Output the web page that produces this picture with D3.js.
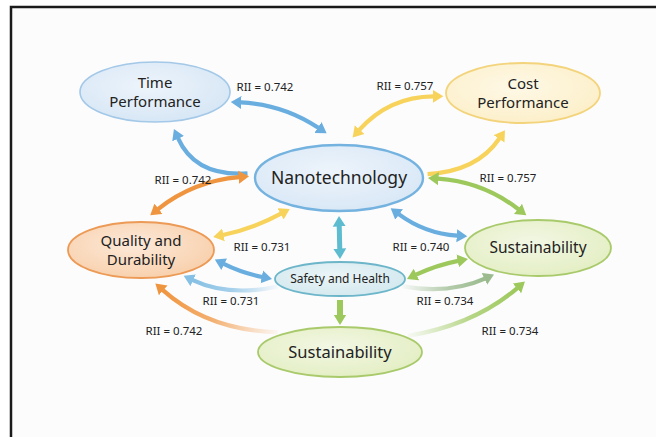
<!DOCTYPE html>
<html>
<head>
<meta charset="utf-8">
<script src="https://cdn.jsdelivr.net/npm/d3@7"></script>
<style>
  html, body { margin: 0; padding: 0; background: #fff; }
  svg { display: block; font-family: "Noto Sans", "Open Sans", sans-serif; }
</style>
</head>
<body>
<div id="chart"></div>
<script>
// node names (one entry per ellipse), lines of text
const nodeIds = ["time", "cost", "nano", "quality", "sustR", "safety", "sustB"];
const nodeLabels = [
  ["Time", "Performance"],
  ["Cost", "Performance"],
  ["Nanotechnology"],
  ["Quality and", "Durability"],
  ["Sustainability"],
  ["Safety and Health"],
  ["Sustainability"]
];
const nodeTheme = ["blue", "yellow", "nano", "orange", "green", "teal", "green"];

// links: source, target, which ends carry a head, colour
const linkSource = ["time", "time", "nano", "cost", "nano", "nano", "quality", "quality", "quality", "quality", "nano", "safety", "nano", "safety", "safety", "sustB"];
const linkTarget = ["nano", "nano", "quality", "nano", "cost", "sustR", "nano", "safety", "safety", "sustB", "safety", "sustB", "sustR", "sustR", "sustR", "sustR"];
const linkHeads  = ["both", "start", "both", "both", "end", "both", "both", "both", "start", "start", "both", "end", "both", "both", "end", "end"];
const linkColour = ["blue", "blue", "orange", "yellow", "yellow", "green", "yellow", "blue", "lightblue", "orange", "teal", "green", "blue", "green", "grey", "green"];

// RII values printed next to the arrows
const riiValues = [0.742, 0.757, 0.742, 0.757, 0.731, 0.731, 0.740, 0.734, 0.742, 0.734];

// ---- layout (positions and sizes) ----
const W = 656, H = 437;
const nodeBox = {
  time:    { cx: 155, cy: 92,  rx: 75, ry: 30, fs: 15 },
  cost:    { cx: 523, cy: 93,  rx: 77, ry: 30, fs: 15 },
  nano:    { cx: 339, cy: 178, rx: 84, ry: 33, fs: 17.5 },
  quality: { cx: 141, cy: 250, rx: 73, ry: 28, fs: 15 },
  sustR:   { cx: 538, cy: 248, rx: 73, ry: 28, fs: 15.5 },
  safety:  { cx: 340, cy: 279, rx: 65, ry: 17, fs: 12 },
  sustB:   { cx: 340, cy: 352, rx: 82, ry: 25, fs: 16.5 }
};
// angle on source ellipse, angle on target ellipse, bend, gaps, stroke width, fade end
const linkGeom = [
  { a0: 15,  a1: -98, bend: -7,  g0: 4, g1: 12 },
  { a0: 76,  a1: 185, bend: 15,  g0: 8, g1: 8 },
  { a0: 182, a1: -83, bend: 8,   g0: 6, g1: 7 },
  { a0: 175, a1: -81, bend: 11,  g0: 3, g1: 8 },
  { a0: -5,  a1: 103, bend: 11,  g0: 5, g1: 8 },
  { a0: 0,   a1: -99, bend: -8,  g0: 5, g1: 5 },
  { a0: -20, a1: 125, bend: 3,   g0: 5, g1: 4 },
  { a0: 15,  a1: 180, bend: 2,   g0: 4, g1: 3 },
  { a0: 55,  a1: 160, bend: 8,   g0: 3, g1: 2, fade: "end" },
  { a0: 79,  a1: 222, bend: 12,  g0: 6, g1: 3, fade: "end" },
  { a0: 90,  a1: -90, bend: 0,   g0: 5, g1: 3, w: 5 },
  { a0: 90,  a1: -90, bend: 0,   g0: 4, g1: 2, w: 6 },
  { a0: 53,  a1: 200, bend: 6,   g0: 4, g1: 3 },
  { a0: 0,   a1: 160, bend: -2,  g0: 2, g1: 2 },
  { a0: 20,  a1: 126, bend: 7,   g0: 2, g1: 4, fade: "start" },
  { a0: -35, a1: 100, bend: 9,   g0: 2, g1: 6, fade: "start" }
];
const labelPos = [[265, 87], [405, 86], [183, 180], [508, 178], [262, 247], [231, 301], [421, 247], [445, 301], [174, 331], [510, 331]];

const themes = {
  blue:   { fill: "#d6e6f5", stroke: "#a3c8e8", sw: 1.6 },
  nano:   { fill: "#d8e7f6", stroke: "#74b2df", sw: 2.4 },
  yellow: { fill: "#fcefc8", stroke: "#f3d47c", sw: 1.8 },
  orange: { fill: "#f8cfaa", stroke: "#ec9a55", sw: 1.8 },
  green:  { fill: "#e3eec2", stroke: "#a9ca6b", sw: 1.8 },
  teal:   { fill: "#d2e8ee", stroke: "#6db6ca", sw: 1.8 }
};
const arrowColours = {
  blue: "#6aaee0", orange: "#f0953f", yellow: "#f7d35c", green: "#9dc85c",
  teal: "#5dbccf", lightblue: "#86c0e4", grey: "#9bbb8f"
};

const svg = d3.select("#chart").append("svg")
  .attr("width", W)
  .attr("height", H);
const defs = svg.append("defs");

// frame of the picture (top and left edge only)
svg.append("rect").attr("x", 11).attr("y", 7).attr("width", W - 11).attr("height", H - 7).attr("fill", "#fcfcfd");
svg.append("path")
  .attr("d", d3.line()([[11, H], [11, 7], [W, 7]]))
  .attr("fill", "none")
  .attr("stroke", "#1a1a1a")
  .attr("stroke-width", 2.5);

// radial gradients for the ellipses
Object.entries(themes).forEach(([k, t]) => {
  const g = defs.append("radialGradient").attr("id", "fill-" + k)
    .attr("cx", "45%").attr("cy", "40%").attr("r", "65%");
  g.append("stop").attr("offset", "0%").attr("stop-color", d3.interpolateRgb(t.fill, "#fff")(0.55));
  g.append("stop").attr("offset", "100%").attr("stop-color", t.fill);
});

// arrow heads, one marker per colour
const headLen = 10;
Object.entries(arrowColours).forEach(([k, c]) => {
  defs.append("marker")
    .attr("id", "head-" + k)
    .attr("markerUnits", "userSpaceOnUse")
    .attr("viewBox", "0 -7 11 14")
    .attr("refX", 0.5).attr("refY", 0)
    .attr("markerWidth", 11).attr("markerHeight", 14)
    .attr("orient", "auto-start-reverse")
    .append("path")
    .attr("d", "M0,-6.5L10.5,0L0,6.5Z")
    .attr("fill", c);
});

function rimPoint(id, deg, gap) {
  const n = nodeBox[id];
  const t = deg * Math.PI / 180;
  const px = n.cx + n.rx * Math.cos(t), py = n.cy + n.ry * Math.sin(t);
  let nx = Math.cos(t) / n.rx, ny = Math.sin(t) / n.ry;
  const l = Math.hypot(nx, ny);
  return [px + gap * nx / l, py + gap * ny / l];
}

const gLinks = svg.append("g");
linkSource.forEach((s, i) => {
  const geo = linkGeom[i];
  const heads = linkHeads[i];
  const col = linkColour[i];
  let p0 = rimPoint(s, geo.a0, geo.g0);
  let p2 = rimPoint(linkTarget[i], geo.a1, geo.g1);
  const dx = p2[0] - p0[0], dy = p2[1] - p0[1];
  const len = Math.hypot(dx, dy);
  const nx = -dy / len, ny = dx / len;
  const c = [(p0[0] + p2[0]) / 2 + 2 * geo.bend * nx, (p0[1] + p2[1]) / 2 + 2 * geo.bend * ny];
  // pull the ends back so the head tip lands on the end point
  const pull = (p, q) => {
    const ux = p[0] - q[0], uy = p[1] - q[1], l = Math.hypot(ux, uy);
    return [p[0] - headLen * ux / l, p[1] - headLen * uy / l];
  };
  if (heads === "both" || heads === "start") p0 = pull(p0, c);
  if (heads === "both" || heads === "end") p2 = pull(p2, c);
  const path = d3.path();
  path.moveTo(p0[0], p0[1]);
  path.quadraticCurveTo(c[0], c[1], p2[0], p2[1]);

  let stroke = arrowColours[col];
  if (geo.fade) {
    const gid = "fade-" + i;
    const from = geo.fade === "start" ? p0 : p2;
    const to = geo.fade === "start" ? p2 : p0;
    const lg = defs.append("linearGradient").attr("id", gid)
      .attr("gradientUnits", "userSpaceOnUse")
      .attr("x1", from[0]).attr("y1", from[1]).attr("x2", to[0]).attr("y2", to[1]);
    lg.append("stop").attr("offset", "0%").attr("stop-color", arrowColours[col]).attr("stop-opacity", 0.05);
    lg.append("stop").attr("offset", "55%").attr("stop-color", arrowColours[col]).attr("stop-opacity", 0.75);
    lg.append("stop").attr("offset", "100%").attr("stop-color", arrowColours[col]).attr("stop-opacity", 1);
    stroke = `url(#${gid})`;
  }

  const el = gLinks.append("path")
    .attr("d", path.toString())
    .attr("fill", "none")
    .attr("stroke", stroke)
    .attr("stroke-width", geo.w || 4.2);
  if (heads === "both" || heads === "start") el.attr("marker-start", `url(#head-${col})`);
  if (heads === "both" || heads === "end") el.attr("marker-end", `url(#head-${col})`);
});

// ellipses and their names
const gNodes = svg.append("g")
  .selectAll("g")
  .data(nodeIds)
  .join("g")
  .attr("transform", d => `translate(${nodeBox[d].cx},${nodeBox[d].cy})`);

gNodes.append("ellipse")
  .attr("rx", d => nodeBox[d].rx)
  .attr("ry", d => nodeBox[d].ry)
  .attr("fill", (d, i) => `url(#fill-${nodeTheme[i]})`)
  .attr("stroke", (d, i) => themes[nodeTheme[i]].stroke)
  .attr("stroke-width", (d, i) => themes[nodeTheme[i]].sw);

gNodes.each(function (d, i) {
  const lines = nodeLabels[i];
  const fs = nodeBox[d].fs;
  const lh = fs * 1.3;
  d3.select(this).append("text")
    .attr("text-anchor", "middle")
    .attr("font-size", fs)
    .attr("font-weight", 450)
    .attr("fill", "#222")
    .selectAll("tspan")
    .data(lines)
    .join("tspan")
    .attr("x", 0)
    .attr("y", (l, j) => (j - (lines.length - 1) / 2) * lh)
    .attr("dy", "0.35em")
    .text(l => l);
});

// RII labels
const fmt = d3.format(".3f");
svg.append("g")
  .selectAll("text")
  .data(riiValues)
  .join("text")
  .attr("x", (d, i) => labelPos[i][0])
  .attr("y", (d, i) => labelPos[i][1])
  .attr("dy", "0.35em")
  .attr("text-anchor", "middle")
  .attr("font-size", 11.5)
  .attr("fill", "#222")
  .text(d => "RII = " + fmt(d));
</script>
</body>
</html>
